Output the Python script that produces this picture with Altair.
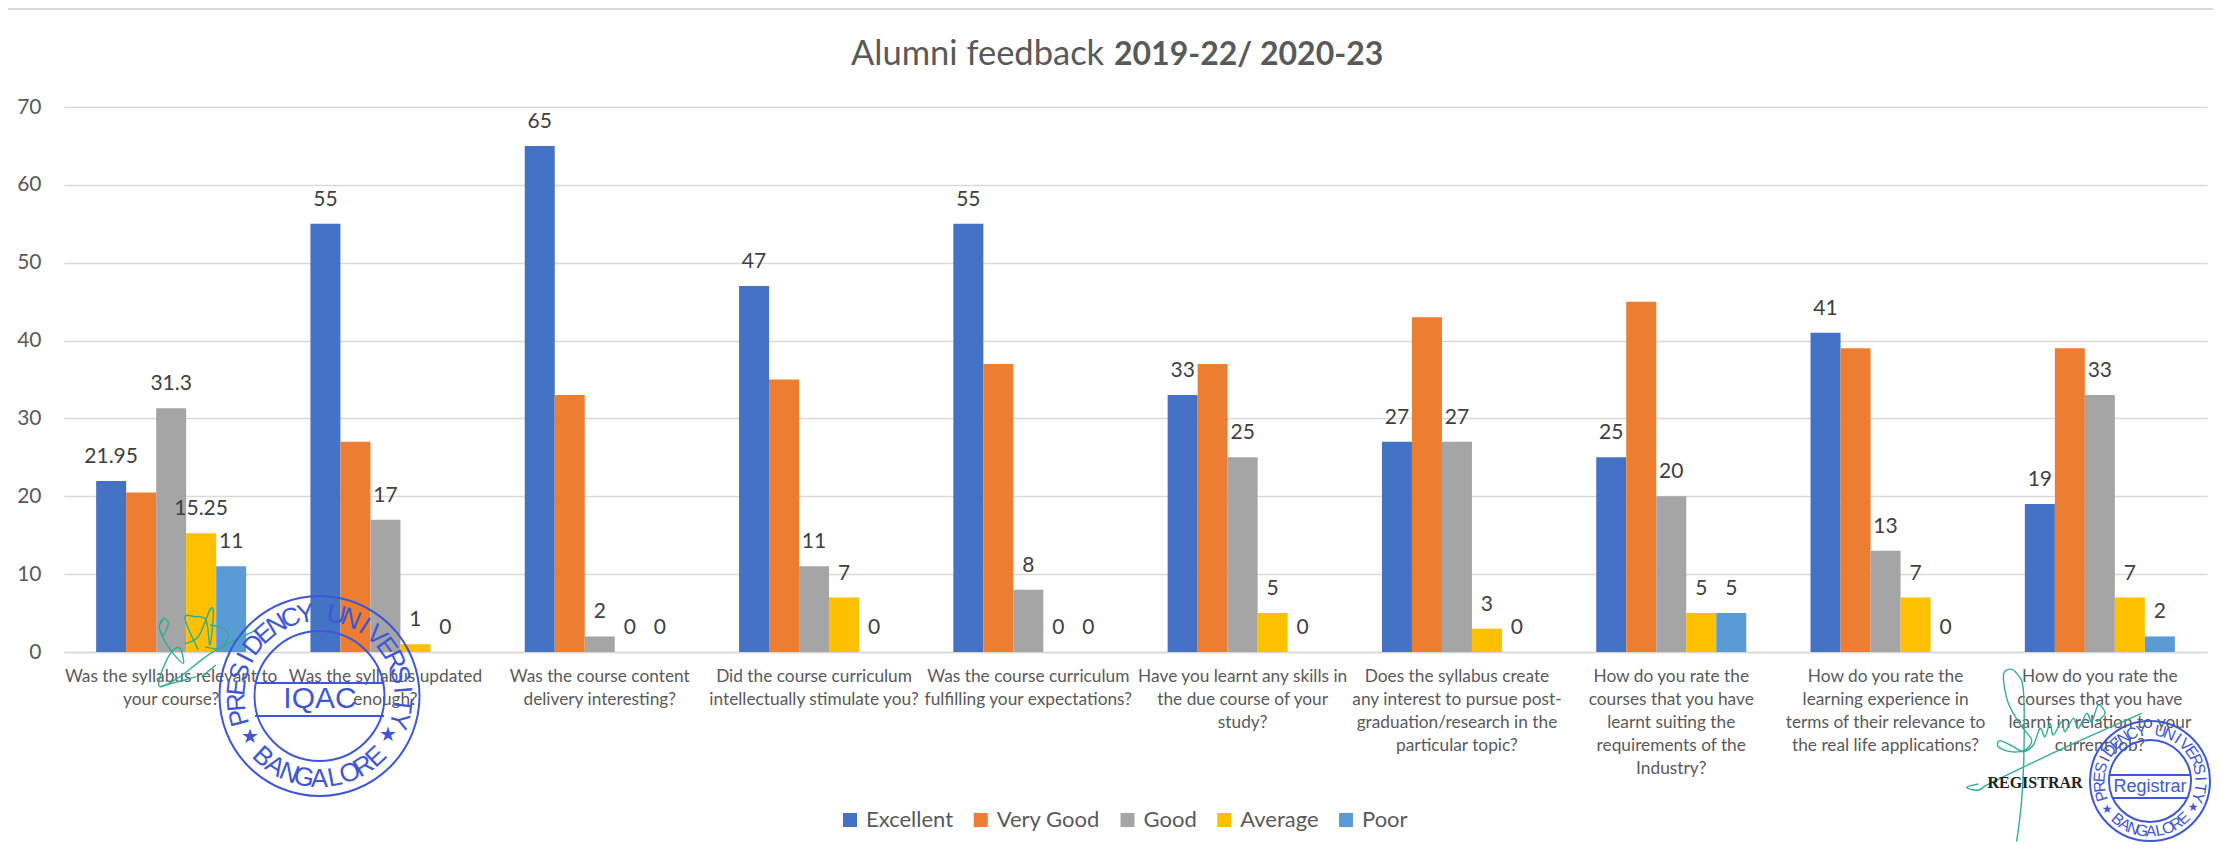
import math
import altair as alt
import pandas as pd

categories = [
    "Was the syllabus relevant to|your course?",
    "Was the syllabus updated|enough?",
    "Was the course content|delivery interesting?",
    "Did the course curriculum|intellectually stimulate you?",
    "Was the course curriculum|fulfilling your expectations?",
    "Have you learnt any skills in|the due course of your|study?",
    "Does the syllabus create|any interest to pursue post-|graduation/research in the|particular topic?",
    "How do you rate the|courses that you have|learnt suiting the|requirements of the|Industry?",
    "How do you rate the|learning experience in|terms of their relevance to|the real life applications?",
    "How do you rate the|courses that you have|learnt in relation to your|current job?",
]
series_names = ["Excellent", "Very Good", "Good", "Average", "Poor"]
colors = ["#4472C4", "#ED7D31", "#A5A5A5", "#FFC000", "#5B9BD5"]
excellent = [21.95, 55, 65, 47, 55, 33, 27, 25, 41, 19]
very_good = [20.5, 27, 33, 35, 37, 37, 43, 45, 39, 39]
good = [31.3, 17, 2, 11, 8, 25, 27, 20, 13, 33]
average = [15.25, 1, 0, 7, 0, 5, 3, 5, 7, 7]
poor = [11, 0, 0, 0, 0, 0, 0, 5, 0, 2]

rows = []
for name, vals in zip(series_names, [excellent, very_good, good, average, poor]):
    for c, v in zip(categories, vals):
        rows.append({"cat": c, "series": name, "value": v})
df = pd.DataFrame(rows)

OX, OY = 64, 107
W, H = 2143, 545
TEXT = "#595959"
FONT = "Lato"
STAMP = "#3F57D6"
INK = "#2FAE92"

x = alt.X("cat:N", sort=categories, title=None,
          scale=alt.Scale(paddingInner=0.3, paddingOuter=0.15),
          axis=alt.Axis(labelExpr="split(datum.label, '|')", labelAngle=0, labelAlign="center",
                        labelBaseline="top", labelFontSize=17.3, labelFont=FONT, labelColor=TEXT,
                        labelLineHeight=23, labelLimit=1000, labelPadding=15, ticks=False,
                        domainColor="#D9D9D9", domainWidth=1.5, labelOverlap=False))
xo = alt.XOffset("series:N", sort=series_names)
y = alt.Y("value:Q", title=None, scale=alt.Scale(domain=[0, 70]),
          axis=alt.Axis(values=list(range(0, 71, 10)), labelFontSize=21, labelFont=FONT, labelColor=TEXT,
                        labelPadding=23, ticks=False, domain=False, gridColor="#D9D9D9", gridWidth=1.5))

bars = alt.Chart(df).mark_bar().encode(
    x=x, xOffset=xo, y=y,
    color=alt.Color("series:N", sort=series_names, scale=alt.Scale(domain=series_names, range=colors),
                    legend=alt.Legend(title=None, orient="none", legendX=775, legendY=702, direction="horizontal",
                                      columns=5, symbolType="square", symbolSize=196, symbolStrokeWidth=0,
                                      labelFontSize=22, labelFont=FONT, labelColor=TEXT, labelOffset=5,
                                      columnPadding=15.75, labelLimit=300)),
)
labels = alt.Chart(df[df.series != "Very Good"]).mark_text(
    baseline="alphabetic", dy=-18, fontSize=21, font=FONT, color="#404040"
).encode(x=x, xOffset=xo, y=y, text=alt.Text("value:Q"))
main = alt.layer(bars, labels)


def ring(cx, cy, r, text, a0, a1, size, bottom=False):
    out = []
    n = len(text)
    for i, ch in enumerate(text):
        a = a0 + (a1 - a0) * i / (n - 1)
        if ch == " ":
            continue
        t = math.radians(a)
        if bottom:
            px, py, rot = cx + r * math.sin(t), cy + r * math.cos(t), -a
        else:
            px, py, rot = cx + r * math.sin(t), cy - r * math.cos(t), a
        out.append({"px": px - OX, "py": py - OY, "c": ch, "a": rot % 360, "s": size})
    return out


ring_rows = (
    ring(319.5, 696, 83, "PRESIDENCY UNIVERSITY", -105, 107, 26)
    + ring(319.5, 696, 83, "BANGALORE", -43, 43, 26, bottom=True)
    + ring(2150, 781, 50.5, "PRESIDENCY UNIVERSITY", -107, 109, 16)
    + ring(2150, 781, 50.5, "BANGALORE", -40, 42, 16, bottom=True)
)
ring_df = pd.DataFrame(ring_rows)
PX = alt.X("px:Q", scale=None, axis=None)
PY = alt.Y("py:Q", scale=None, axis=None)
ring_text = alt.Chart(ring_df).mark_text(font="Liberation Sans", baseline="middle", align="center", color=STAMP).encode(
    x=PX, y=PY, text="c:N", angle=alt.Angle("a:Q", scale=None), size=alt.Size("s:Q", scale=None))

circle_df = pd.DataFrame([
    {"px": 319.5 - OX, "py": 696 - OY, "d": 200},
    {"px": 319.5 - OX, "py": 696 - OY, "d": 130},
    {"px": 2150 - OX, "py": 781 - OY, "d": 120},
    {"px": 2150 - OX, "py": 781 - OY, "d": 82},
])
circle_df["area"] = circle_df.d ** 2
circles = alt.Chart(circle_df).mark_point(shape="circle", filled=False, color=STAMP, strokeWidth=2, opacity=1).encode(
    x=PX, y=PY, size=alt.Size("area:Q", scale=None))

band_df = pd.DataFrame([
    {"px": 255 - OX, "p2": 384 - OX, "py": 683 - OY},
    {"px": 255 - OX, "p2": 384 - OX, "py": 716 - OY},
    {"px": 2110 - OX, "p2": 2190 - OX, "py": 775 - OY},
    {"px": 2113 - OX, "p2": 2187 - OX, "py": 798 - OY},
])
bands = alt.Chart(band_df).mark_rule(color=STAMP, strokeWidth=2).encode(
    x=PX, x2="p2:Q", y=PY)

note_df = pd.DataFrame([
    {"px": 320 - OX, "py": 699 - OY, "c": "IQAC", "s": 30},
    {"px": 2150 - OX, "py": 787 - OY, "c": "Registrar", "s": 18},
])
notes = alt.Chart(note_df).mark_text(font="Liberation Sans", color=STAMP, baseline="middle", align="center").encode(
    x=PX, y=PY, text="c:N", size=alt.Size("s:Q", scale=None))

star_df = pd.DataFrame([
    {"px": 250 - OX, "py": 737 - OY, "c": "★", "s": 20},
    {"px": 388 - OX, "py": 735 - OY, "c": "★", "s": 20},
    {"px": 2107 - OX, "py": 809 - OY, "c": "★", "s": 12},
    {"px": 2193 - OX, "py": 807 - OY, "c": "★", "s": 12},
])
stars = alt.Chart(star_df).mark_text(font="DejaVu Sans", color=STAMP, baseline="middle", align="center").encode(
    x=PX, y=PY, text="c:N", size=alt.Size("s:Q", scale=None))

registrar = alt.Chart(pd.DataFrame([{"px": 2035 - OX, "py": 783 - OY, "c": "REGISTRAR"}])).mark_text(
    font="Liberation Serif", fontWeight="bold", fontSize=16, color="#222222", baseline="middle", align="center"
).encode(x=PX, y=PY, text="c:N")

sig1 = {
    "a": [(100,120),(88,140),(100,165),(115,130),(100,115),(88,140),(100,175),(125,215),(160,250),(150,205),
          (125,215),(95,275),(90,320),(150,290),(250,215),(380,150)],
    "b": [(165,190),(205,170),(240,90),(250,100),(240,195),(228,120),(195,110),(165,115),(205,210)],
    "c": [(240,135),(280,145),(295,170),(270,205),(225,200)],
    "d": [(90,320),(200,290)],
    "e": [(215,290),(258,255)],
}
sig2 = {
    "f": [(200,575),(215,450),(222,300),(220,120),(200,70),(175,58),(160,80),(175,160),(215,230),(245,270),
          (225,300),(180,305),(145,290),(150,272),(190,290),(220,305),(250,285),(270,235),(285,260),(300,220),
          (310,255),(335,215),(345,245),(370,205),(385,235),(410,190),(425,215),(445,165),(465,190),(440,215)],
    "g": [(85,402),(50,412),(85,420),(130,395),(350,290),(575,190)],
}
ink_rows = []
for k, pts in sig1.items():
    for i, (a, b) in enumerate(pts):
        ink_rows.append({"k": k, "i": i, "px": 130 + a / 3 - OX, "py": 580 + b / 3 - OY})
for k, pts in sig2.items():
    for i, (a, b) in enumerate(pts):
        ink_rows.append({"k": k, "i": i, "px": 1950 + a / 3 - OX, "py": 650 + b / 3 - OY})
ink = alt.Chart(pd.DataFrame(ink_rows)).mark_line(color=INK, strokeWidth=1.4, interpolate="cardinal").encode(
    x=PX, y=PY, detail="k:N", order="i:Q")

title_a = alt.Chart(pd.DataFrame([{"px": 851 - OX, "py": 65 - OY, "c": "Alumni feedback"}])).mark_text(
    font=FONT, fontSize=34.5, color=TEXT, align="left", baseline="alphabetic"
).encode(x=PX, y=PY, text="c:N")
title_b = alt.Chart(pd.DataFrame([{"px": 1114 - OX, "py": 65 - OY, "c": "2019-22/ 2020-23"}])).mark_text(
    font=FONT, fontSize=32, fontWeight="bold", color=TEXT, align="left", baseline="alphabetic"
).encode(x=PX, y=PY, text="c:N")
top_line = alt.Chart(pd.DataFrame([{"px": -56, "p2": W + 6, "py": -98}])).mark_rule(color="#D9D9D9", strokeWidth=2).encode(
    x=PX, x2="p2:Q", y=PY)

chart = alt.layer(
    main, top_line, title_a, title_b, ink, ring_text, circles, bands, notes, stars, registrar
).resolve_scale(x="independent", y="independent").properties(
    width=W, height=H,
    autosize=alt.AutoSizeParams(type="none"),
    padding={"left": 56, "top": 99, "right": 6, "bottom": 190},
).configure_view(stroke=None)

chart.save("out.html", embed_options={"renderer": "svg", "actions": False})
